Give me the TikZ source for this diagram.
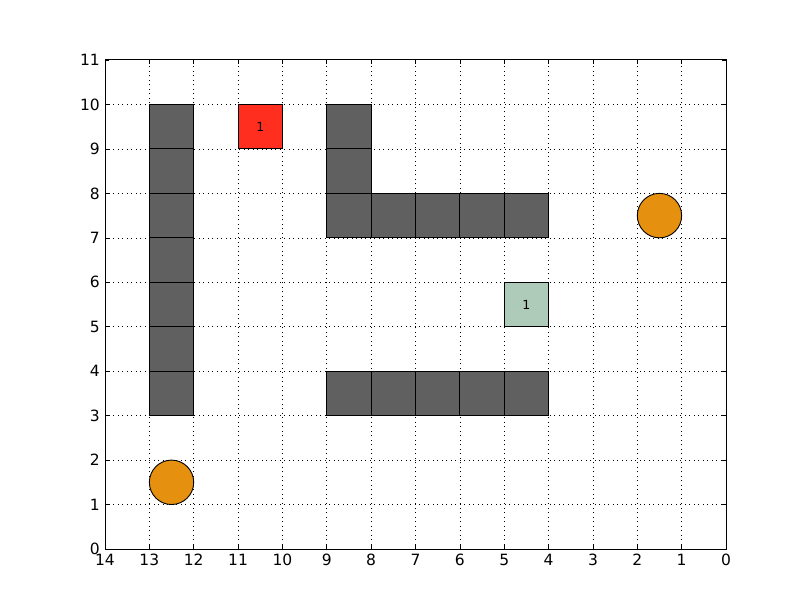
\documentclass[tikz,border=0pt]{standalone}
\usepackage{fontspec}
\setmainfont{DejaVu Sans}
\definecolor{wallgray}{HTML}{606060}
\definecolor{goalred}{HTML}{FF2E1F}
\definecolor{agentgreen}{HTML}{AECBB9}
\definecolor{orb}{HTML}{E69010}
\tikzset{
  wall/.style={fill=wallgray,draw=black,line width=0.9pt},
  gridline/.style={black,line width=0.6pt,dash pattern=on 1pt off 3.5pt},
  ticklab/.style={font=\fontsize{15.5}{17}\selectfont,inner sep=0pt},
  celllab/.style={font=\fontsize{12.5}{14}\selectfont,inner sep=0pt},
}
\begin{document}
\begin{tikzpicture}[x=1pt,y=1pt]
\useasboundingbox (0,0) rectangle (810,610);
\fill[white] (0,0) rectangle (810,610);
\begin{scope}[shift={(726,61)},x=-44.357pt,y=44.4545pt]
  % grid
  \foreach \i in {1,...,13} \draw[gridline] (\i,0) -- (\i,11);
  \foreach \j in {1,...,10} \draw[gridline] (0,\j) -- (14,\j);
  % walls
  \foreach \j in {3,...,9} \draw[wall] (12,\j) rectangle (13,\j+1);
  \foreach \j in {7,8,9} \draw[wall] (8,\j) rectangle (9,\j+1);
  \foreach \i in {4,...,7} \draw[wall] (\i,7) rectangle (\i+1,8);
  \foreach \i in {4,...,8} \draw[wall] (\i,3) rectangle (\i+1,4);
  % goal and agent
  \draw[fill=goalred,draw=black,line width=0.9pt] (10,9) rectangle (11,10);
  \node[celllab] (goal) at (10.5,9.5) {1};
  \draw[fill=agentgreen,draw=black,line width=0.9pt] (4,5) rectangle (5,6);
  \node[celllab] (agent) at (4.5,5.5) {1};
  % orbs
  \draw[fill=orb,draw=black,line width=0.9pt] (12.5,1.5) circle[radius=0.5];
  \draw[fill=orb,draw=black,line width=0.9pt] (1.5,7.5) circle[radius=0.5];
  % ticks
  \foreach \i in {0,...,14} {
    \draw[line width=0.6pt] (\i,0) -- ++(0,4pt);
    \draw[line width=0.6pt] (\i,11) -- ++(0,-4pt);
    \node[ticklab,anchor=north] (xl\i) at ([yshift=-5pt]\i,0) {\i};
  }
  \foreach \j in {0,...,11} {
    \draw[line width=0.6pt] (14,\j) -- ++(4pt,0);
    \draw[line width=0.6pt] (0,\j) -- ++(-4pt,0);
    \node[ticklab,anchor=east] (yl\j) at ([xshift=-5pt]14,\j) {\j};
  }
  % frame
  \draw[line width=1pt] (0,0) rectangle (14,11);
\end{scope}
\end{tikzpicture}
\end{document}
